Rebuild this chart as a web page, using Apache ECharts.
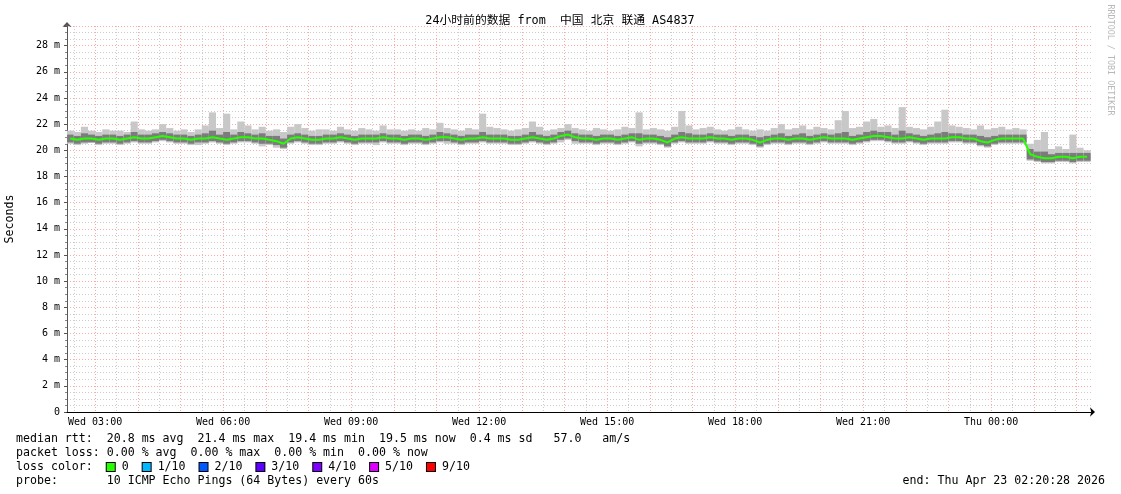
<!DOCTYPE html>
<html><head><meta charset="utf-8">
<script src="https://cdn.jsdelivr.net/npm/echarts@6/dist/echarts.min.js"></script>
<style>html,body{margin:0;padding:0;background:#fff}#c{width:1121px;height:494px}</style>
</head><body><div id="c"></div>
<script>
// ---- text ----
const titleText = '24小时前的数据 from  中国 北京 联通 AS4837';
const yAxisName = 'Seconds';
const watermark = 'RRDTOOL / TOBI OETIKER';
const statLines = [
  'median rtt:  20.8 ms avg  21.4 ms max  19.4 ms min  19.5 ms now  0.4 ms sd   57.0   am/s',
  'packet loss: 0.00 % avg  0.00 % max  0.00 % min  0.00 % now',
  null,
  'probe:       10 ICMP Echo Pings (64 Bytes) every 60s'
];
const endText = 'end: Thu Apr 23 02:20:28 2026';
const lossLabels = ['0', '1/10', '2/10', '3/10', '4/10', '5/10', '9/10'];
const lossColors = ['#26ff00', '#00b8ff', '#0059ff', '#5e00ff', '#7e00ff', '#dd00ff', '#ff0000'];

// ---- time axis (minutes after Wed 00:00) ----
const viewStart = 140.47;   // Wed 02:20:28
const viewEnd = 1580.47;    // Thu 02:20:28
const firstSample = 140;    // Wed 02:20
const sampleStep = 10;      // minutes per bucket
const labelTimes = [180, 360, 540, 720, 900, 1080, 1260, 1440];
const yMax = 29.5;

// ---- data (ms), one value per 10-minute bucket ----
const med = [
20.9,20.8,20.9,20.9,20.8,20.9,20.9,20.8,20.9,21.0,20.9,20.9,
21.0,21.1,21.0,20.9,20.9,20.8,20.9,20.9,21.0,20.9,20.8,20.9,
21.0,21.0,20.9,20.9,20.8,20.7,20.5,20.9,21.0,20.9,20.8,20.8,
20.9,20.9,21.0,20.9,20.8,20.9,20.9,20.9,21.0,20.9,20.9,20.8,
20.9,20.9,20.8,20.9,21.0,21.0,20.9,20.8,20.9,20.9,21.0,20.9,
20.9,20.9,20.8,20.8,20.9,21.0,20.9,20.8,20.9,21.1,21.2,21.0,
20.9,20.9,20.8,20.9,20.9,20.8,20.9,21.0,20.8,20.9,20.9,20.8,
20.6,20.9,21.0,20.9,20.9,20.9,21.0,20.9,20.9,20.8,20.9,20.9,
20.8,20.6,20.8,20.9,20.9,20.8,20.9,20.9,20.8,20.9,21.0,20.9,
20.9,20.9,20.8,20.9,21.0,21.1,21.1,21.0,20.9,20.9,21.0,20.9,
20.8,20.9,20.9,20.9,21.0,21.0,20.9,20.9,20.7,20.6,20.8,20.9,
20.9,20.9,20.9,19.7,19.5,19.4,19.4,19.5,19.5,19.4,19.5,19.5];
const lo = [
20.5,20.4,20.5,20.6,20.4,20.5,20.5,20.4,20.5,20.6,20.5,20.5,
20.6,20.7,20.6,20.5,20.5,20.4,20.4,20.5,20.6,20.5,20.4,20.5,
20.6,20.6,20.5,20.3,20.4,20.2,20.1,20.5,20.6,20.5,20.4,20.4,
20.5,20.5,20.6,20.5,20.4,20.5,20.5,20.4,20.6,20.5,20.5,20.4,
20.5,20.5,20.4,20.5,20.6,20.5,20.5,20.4,20.5,20.5,20.6,20.5,
20.5,20.5,20.4,20.4,20.5,20.6,20.5,20.4,20.5,20.6,20.8,20.5,
20.5,20.5,20.4,20.5,20.5,20.4,20.5,20.6,20.3,20.5,20.5,20.4,
20.2,20.5,20.6,20.5,20.5,20.5,20.6,20.5,20.5,20.4,20.5,20.5,
20.4,20.2,20.4,20.5,20.5,20.4,20.5,20.5,20.4,20.5,20.6,20.5,
20.5,20.5,20.4,20.5,20.6,20.7,20.7,20.6,20.5,20.5,20.6,20.5,
20.4,20.5,20.5,20.5,20.6,20.6,20.5,20.5,20.3,20.2,20.4,20.5,
20.5,20.5,20.5,19.2,19.1,19.0,19.0,19.1,19.1,19.0,19.1,19.1];
const q1 = [
20.6,20.5,20.6,20.6,20.5,20.6,20.6,20.5,20.6,20.7,20.6,20.6,
20.7,20.8,20.7,20.6,20.6,20.5,20.6,20.6,20.7,20.6,20.5,20.6,
20.7,20.7,20.6,20.5,20.5,20.4,20.2,20.6,20.7,20.6,20.5,20.5,
20.6,20.6,20.7,20.6,20.5,20.6,20.6,20.6,20.7,20.6,20.6,20.5,
20.6,20.6,20.5,20.6,20.7,20.7,20.6,20.5,20.6,20.6,20.7,20.6,
20.6,20.6,20.5,20.5,20.6,20.7,20.6,20.5,20.6,20.8,20.9,20.7,
20.6,20.6,20.5,20.6,20.6,20.5,20.6,20.7,20.5,20.6,20.6,20.5,
20.3,20.6,20.7,20.6,20.6,20.6,20.7,20.6,20.6,20.5,20.6,20.6,
20.5,20.3,20.5,20.6,20.6,20.5,20.6,20.6,20.5,20.6,20.7,20.6,
20.6,20.6,20.5,20.6,20.7,20.8,20.8,20.7,20.6,20.6,20.7,20.6,
20.5,20.6,20.6,20.6,20.7,20.7,20.6,20.6,20.4,20.3,20.5,20.6,
20.6,20.6,20.6,19.3,19.2,19.1,19.1,19.2,19.2,19.1,19.2,19.2];
const q3 = [
21.2,21.1,21.3,21.2,21.1,21.2,21.2,21.1,21.2,21.4,21.2,21.2,
21.3,21.4,21.3,21.2,21.2,21.1,21.2,21.3,21.5,21.2,21.4,21.2,
21.4,21.3,21.2,21.3,21.1,21.1,20.9,21.2,21.3,21.2,21.1,21.1,
21.2,21.2,21.3,21.2,21.1,21.2,21.2,21.2,21.3,21.2,21.2,21.1,
21.2,21.2,21.1,21.2,21.4,21.3,21.2,21.1,21.2,21.2,21.4,21.2,
21.2,21.2,21.1,21.1,21.2,21.4,21.2,21.1,21.2,21.4,21.5,21.3,
21.2,21.2,21.1,21.2,21.2,21.1,21.2,21.3,21.3,21.2,21.2,21.1,
21.0,21.2,21.4,21.3,21.2,21.2,21.3,21.2,21.2,21.1,21.2,21.2,
21.1,21.0,21.1,21.2,21.3,21.1,21.2,21.3,21.1,21.2,21.3,21.2,
21.3,21.4,21.1,21.2,21.4,21.5,21.4,21.4,21.2,21.5,21.3,21.2,
21.1,21.2,21.3,21.4,21.3,21.3,21.2,21.2,21.1,21.0,21.1,21.2,
21.2,21.2,21.2,20.1,19.9,19.9,19.7,19.8,19.8,19.8,19.8,19.8];
const hi = [
21.5,21.4,21.8,21.5,21.4,21.6,21.5,21.5,21.4,22.2,21.6,21.5,
21.6,22.0,21.7,21.5,21.6,21.4,21.6,21.9,22.9,21.7,22.8,21.6,
22.2,21.9,21.6,21.8,21.5,21.6,21.4,21.8,22.0,21.7,21.5,21.6,
21.6,21.5,21.8,21.6,21.5,21.7,21.6,21.5,21.9,21.6,21.6,21.5,
21.6,21.5,21.7,21.6,22.1,21.7,21.6,21.5,21.7,21.6,22.8,21.8,
21.7,21.6,21.5,21.6,21.7,22.2,21.8,21.5,21.6,21.7,22.0,21.7,
21.6,21.5,21.7,21.6,21.5,21.6,21.8,21.7,22.9,21.6,21.7,21.6,
21.5,21.8,23.0,21.9,21.6,21.7,21.8,21.6,21.5,21.6,21.8,21.6,
21.5,21.6,21.5,21.7,22.0,21.6,21.7,21.9,21.6,21.8,21.7,21.6,
22.3,23.0,21.7,21.8,22.2,22.4,21.8,21.9,21.7,23.3,21.8,21.7,
21.6,21.8,22.2,23.1,21.9,21.8,21.7,21.6,21.9,21.6,21.7,21.8,
21.6,21.7,21.6,20.5,20.8,21.4,20.1,20.3,20.1,21.2,20.2,20.0];

// ---- build series data ----
const smokeData = med.map((m, i) => [firstSample + i * sampleStep, lo[i], q1[i], q3[i], hi[i]]);
const medData = med.map((m, i) => [firstSample + i * sampleStep + sampleStep / 2, m]);

const hourLines = [];
const halfLines = [];
for (let t = 150; t < viewEnd; t += 30) {
  if (t % 60 === 0) hourLines.push(t); else halfLines.push(t);
}

const mono = '"DejaVu Sans Mono", monospace';
const redGrid = {color: '#ffa8a8', type: [1, 2], width: 1};
const grayGrid = {color: '#cccccc', type: [1, 2], width: 1};
function fmtTime(v) {
  const day = v < 1440 ? 'Wed' : 'Thu';
  const m = ((v % 1440) + 1440) % 1440;
  const hh = String(Math.floor(m / 60)).padStart(2, '0');
  const mm = String(Math.round(m % 60)).padStart(2, '0');
  return day + ' ' + hh + ':' + mm;
}

// loss colour line as rich text
const rich = {t: {fontFamily: mono, fontSize: 11.6, fill: '#000', color: '#000'}};
let lossStr = '{t|loss color:  }';
lossColors.forEach((c, i) => {
  rich['s' + i] = {width: 8, height: 8, backgroundColor: c, borderColor: '#000', borderWidth: 1};
  lossStr += '{s' + i + '|}{t| ' + lossLabels[i] + '  }';
});

const graphics = [
  {type: 'text', x: 560, y: 21, style: {text: titleText, font: '11.8px "DejaVu Sans Mono", "Noto Sans CJK SC", monospace', fill: '#000', align: 'center', verticalAlign: 'middle'}},
  {type: 'text', x: 10, y: 219, rotation: Math.PI / 2, style: {text: yAxisName, font: '11.6px ' + mono, fill: '#000', align: 'center', verticalAlign: 'middle'}},
  {type: 'text', x: 1110, y: 60, rotation: -Math.PI / 2, style: {text: watermark, font: '8.4px ' + mono, fill: '#b8b8b8', align: 'center', verticalAlign: 'middle'}},
  {type: 'text', x: 1105, y: 481, style: {text: endText, font: '11.6px ' + mono, fill: '#000', align: 'right', verticalAlign: 'middle'}}
];
const lineYs = [439, 453, 467, 481];
statLines.forEach((s, i) => {
  if (s === null) {
    graphics.push({type: 'text', x: 16, y: lineYs[i], style: {text: lossStr, rich: rich, font: '11.6px ' + mono, fill: '#000', align: 'left', verticalAlign: 'middle'}});
  } else {
    graphics.push({type: 'text', x: 16, y: lineYs[i], style: {text: s, font: '11.6px ' + mono, fill: '#000', align: 'left', verticalAlign: 'middle'}});
  }
});

const chart = echarts.init(document.getElementById('c'), null, {renderer: 'canvas'});
chart.setOption({
  animation: false,
  backgroundColor: '#fff',
  grid: {left: 67, right: 30, top: 26, bottom: 82, containLabel: false},
  xAxis: [{
    type: 'value', min: viewStart, max: viewEnd, position: 'bottom', z: 3,
    axisLine: {show: true, lineStyle: {color: '#000', width: 1}, symbol: ['none', 'arrow'], symbolSize: [7, 5], symbolOffset: [0, 4]},
    axisTick: {show: false, customValues: hourLines},
    splitLine: {show: true, lineStyle: redGrid},
    axisLabel: {customValues: labelTimes, formatter: fmtTime, fontFamily: mono, fontSize: 10, color: '#000', margin: 5}
  }, {
    type: 'value', min: viewStart, max: viewEnd, position: 'bottom', z: 1,
    axisLine: {show: false},
    axisTick: {show: false, customValues: halfLines},
    splitLine: {show: true, lineStyle: grayGrid},
    axisLabel: {show: false}
  }],
  yAxis: {
    type: 'value', min: 0, max: yMax, interval: 2,
    axisLine: {show: true, lineStyle: {color: '#555', width: 1}, symbol: ['none', 'arrow'], symbolSize: [7, 5], symbolOffset: [0, 4]},
    axisTick: {show: true, length: 3, lineStyle: {color: '#555'}},
    minorTick: {show: true, splitNumber: 4, length: 2, lineStyle: {color: '#888'}},
    splitLine: {show: true, lineStyle: redGrid},
    minorSplitLine: {show: true, lineStyle: grayGrid},
    axisLabel: {showMaxLabel: false, formatter: v => v === 0 ? '0' : v + ' m', fontFamily: mono, fontSize: 10, color: '#000', margin: 7}
  },
  graphic: graphics,
  series: [
    {
      type: 'custom', z: 3, silent: true, clip: true,
      encode: {x: 0, y: [1, 4]},
      data: smokeData,
      renderItem: function (params, api) {
        const t = api.value(0);
        const a = api.coord([t, api.value(4)]);
        const b = api.coord([t + sampleStep, api.value(1)]);
        const c = api.coord([t, api.value(3)]);
        const d = api.coord([t + sampleStep, api.value(2)]);
        const cs = params.coordSys;
        const x0 = Math.max(a[0], cs.x), x1 = Math.min(b[0], cs.x + cs.width);
        return {type: 'group', children: [
          {type: 'rect', shape: {x: x0, y: a[1], width: x1 - x0, height: b[1] - a[1]}, style: {fill: '#c8c8c8'}},
          {type: 'rect', shape: {x: x0, y: c[1], width: x1 - x0, height: d[1] - c[1]}, style: {fill: '#7c7c7c'}}
        ]};
      }
    },
    {
      type: 'line', z: 4, silent: true, data: medData, showSymbol: false, symbol: 'none',
      lineStyle: {color: '#26ff00', width: 2}, clip: true
    }
  ]
});
</script>
</body></html>
